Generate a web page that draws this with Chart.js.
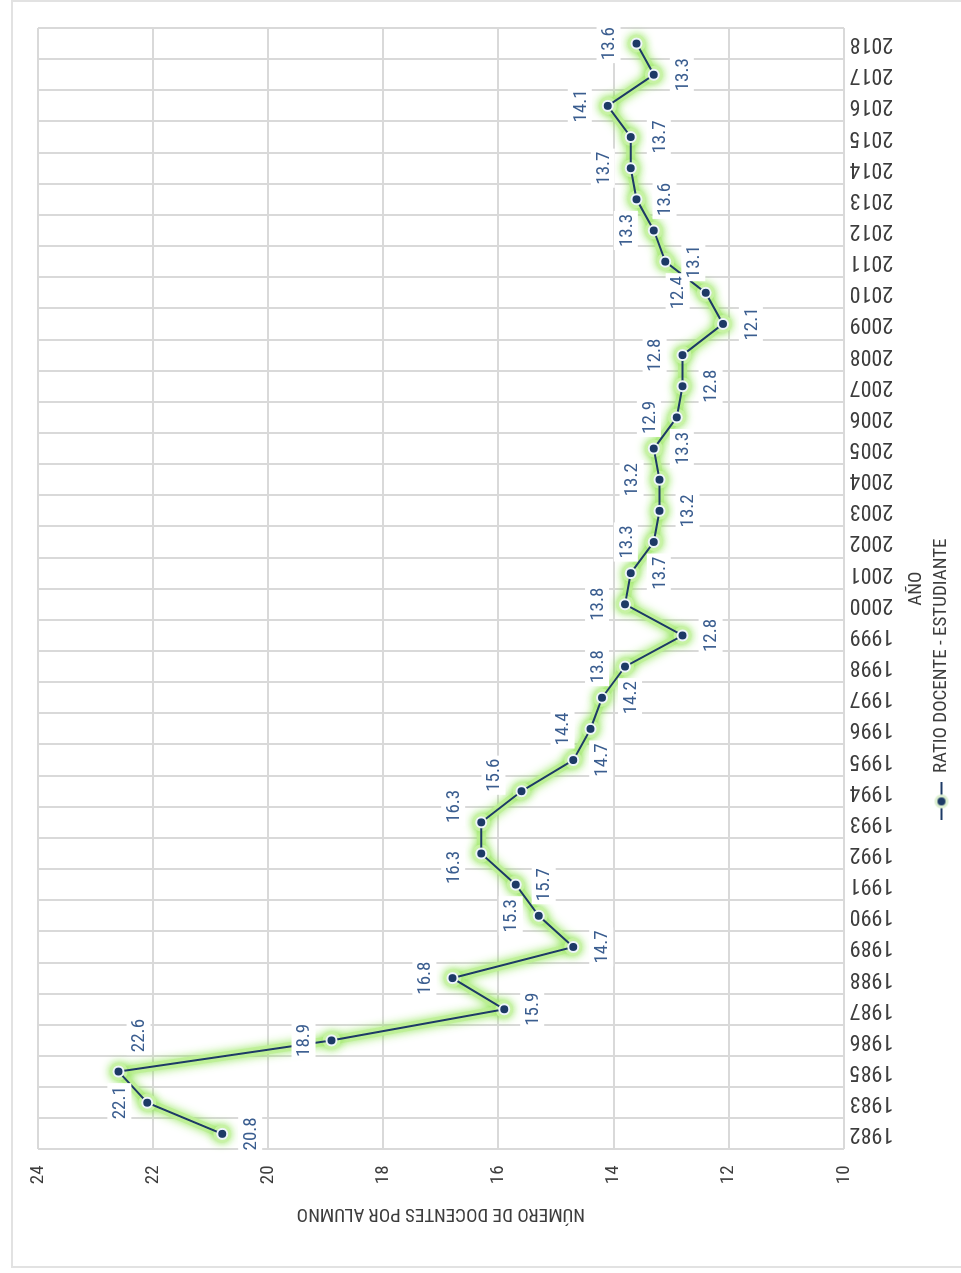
<!DOCTYPE html>
<html lang="es">
<head>
<meta charset="UTF-8">
<title>Ratio docente - estudiante</title>
<script src="https://cdn.jsdelivr.net/npm/chart.js@4"></script>
<style>
  html, body { margin: 0; padding: 0; background: #fff; overflow: hidden; }
  body { width: 961px; height: 1273px; position: relative; }
  .frame {
    position: absolute; left: 11px; top: 0; width: 960px; height: 1268px;
    border: 2px solid #e2e2e2; box-sizing: border-box;
  }
  /* chart drawn in landscape, then turned a quarter turn counter-clockwise */
  .rotated {
    position: absolute; left: 0; top: 0; width: 1273px; height: 961px;
    transform-origin: 0 0; transform: translate(0, 1273px) rotate(-90deg);
  }
</style>
</head>
<body>
<div class="frame"></div>
<div class="rotated">
  <canvas id="chart" width="1273" height="961"></canvas>
</div>
<script>
  const years = ['1982', '1983', '1985', '1986', '1987', '1988', '1989', '1990', '1991', '1992',
                 '1993', '1994', '1995', '1996', '1997', '1998', '1999', '2000', '2001', '2002',
                 '2003', '2004', '2005', '2006', '2007', '2008', '2009', '2010', '2011', '2012',
                 '2013', '2014', '2015', '2016', '2017', '2018'];
  const ratio = [20.8, 22.1, 22.6, 18.9, 15.9, 16.8, 14.7, 15.3, 15.7, 16.3,
                 16.3, 15.6, 14.7, 14.4, 14.2, 13.8, 12.8, 13.8, 13.7, 13.3,
                 13.2, 13.2, 13.3, 12.9, 12.8, 12.8, 12.1, 12.4, 13.1, 13.3,
                 13.6, 13.7, 13.7, 14.1, 13.3, 13.6];
  // where each value label sits relative to its point
  const labelSide = ['below', 'above', 'belowRight', 'above', 'below', 'above', 'below', 'above', 'below', 'aboveLeft',
                     'aboveRight', 'aboveRight', 'below', 'above', 'below', 'above', 'below', 'above', 'below', 'above',
                     'below', 'above', 'below', 'above', 'below', 'above', 'below', 'above', 'below', 'above',
                     'below', 'above', 'below', 'above', 'below', 'above'];
  const yTicks = { min: 10, max: 24, step: 2 };

  const FONT = "'Liberation Sans Narrow', 'Roboto Condensed', 'DejaVu Sans Condensed', 'Liberation Sans', sans-serif";
  const NAVY = '#1d3a66';
  const LABEL_BLUE = '#3a5d8f';
  const GRID = '#d9d9d9';
  const TEXT = '#3d3d3d';
  const SERIES = 'RATIO DOCENTE - ESTUDIANTE';

  // legend icon: short line with a dot
  const legendIcon = document.createElement('canvas');
  legendIcon.width = 38; legendIcon.height = 16;
  (function () {
    const c = legendIcon.getContext('2d');
    c.strokeStyle = NAVY; c.lineWidth = 2;
    c.beginPath(); c.moveTo(0, 8); c.lineTo(38, 8); c.stroke();
    c.fillStyle = '#dcefd0';
    c.beginPath(); c.arc(19, 8, 7, 0, Math.PI * 2); c.fill();
    c.fillStyle = NAVY;
    c.beginPath(); c.arc(19, 8, 4, 0, Math.PI * 2); c.fill();
  })();

  // soft green halo behind the series
  const glowPlugin = {
    id: 'glow',
    beforeDatasetDraw(chart, args) {
      const c = chart.ctx;
      c.save();
      if (args.index === 0) {
        c.shadowColor = 'rgba(140, 228, 80, 1)';
        c.shadowBlur = 10;
      }
    },
    afterDatasetDraw(chart) {
      chart.ctx.restore();
    }
  };

  // push the legend a bit to the left, like the original
  const legendShift = {
    id: 'legendShift',
    afterLayout(chart) {
      if (chart.legend) chart.legend.right -= 106;
    }
  };

  const valueLabels = {
    id: 'valueLabels',
    afterDatasetsDraw(chart) {
      const c = chart.ctx;
      const meta = chart.getDatasetMeta(1);
      c.save();
      c.font = '19px ' + FONT;
      c.textAlign = 'center';
      c.textBaseline = 'middle';
      meta.data.forEach((pt, i) => {
        const side = labelSide[i];
        const txt = ratio[i].toFixed(1);
        let dy = side.startsWith('above') ? -28 : 28;
        let dx = 0;
        if (side.endsWith('Left')) dx = -14;
        if (side.endsWith('Right')) { dx = side === 'belowRight' ? 36 : 16; }
        if (side === 'belowRight') dy = 20;
        const x = pt.x + dx, y = pt.y + dy;
        const w = c.measureText(txt).width + 6;
        c.fillStyle = '#fff';
        c.fillRect(x - w / 2, y - 12, w, 24);
        c.fillStyle = LABEL_BLUE;
        c.fillText(txt, x, y + 1);
      });
      c.restore();
    }
  };

  new Chart(document.getElementById('chart'), {
    type: 'line',
    data: {
      labels: years,
      datasets: [{
        label: 'halo',
        data: ratio,
        order: 2,
        borderColor: 'rgba(190, 240, 150, 0.9)',
        borderWidth: 9,
        borderJoinStyle: 'round',
        borderCapStyle: 'round',
        pointRadius: 9,
        pointBorderWidth: 0,
        pointBackgroundColor: 'rgba(200, 242, 165, 0.95)',
        tension: 0,
        fill: false
      }, {
        label: SERIES,
        data: ratio,
        order: 1,
        borderColor: NAVY,
        borderWidth: 2,
        pointRadius: 5,
        pointBackgroundColor: NAVY,
        pointBorderColor: '#eef5fb',
        pointBorderWidth: 2,
        tension: 0,
        fill: false
      }]
    },
    options: {
      responsive: false,
      animation: false,
      layout: { padding: { top: 38, right: 28, bottom: 0, left: 48 } },
      plugins: {
        tooltip: { enabled: false },
        legend: {
          position: 'bottom',
          labels: {
            filter: item => item.text === SERIES,
            usePointStyle: true,
            pointStyle: legendIcon,
            pointStyleWidth: 38,
            padding: 4,
            color: TEXT,
            font: { size: 19, family: FONT }
          }
        }
      },
      scales: {
        x: {
          offset: true,
          grid: { offset: true, color: GRID, lineWidth: 2, drawTicks: false },
          border: { display: false },
          ticks: { minRotation: 90, maxRotation: 90, padding: 6, color: TEXT, font: { size: 22, family: FONT } },
          title: { display: true, text: 'AÑO', color: TEXT, font: { size: 19, family: FONT }, padding: { top: 6, bottom: 0 } }
        },
        y: {
          min: yTicks.min,
          max: yTicks.max,
          grid: { color: GRID, lineWidth: 2, drawTicks: false },
          border: { display: false },
          ticks: { stepSize: yTicks.step, padding: 16, color: TEXT, font: { size: 19, family: FONT } },
          title: { display: true, text: 'NÚMERO DE DOCENTES POR ALUMNO', color: TEXT, font: { size: 19, family: FONT }, padding: { top: 0, bottom: 2 } }
        }
      }
    },
    plugins: [glowPlugin, legendShift, valueLabels]
  });
</script>
</body>
</html>
